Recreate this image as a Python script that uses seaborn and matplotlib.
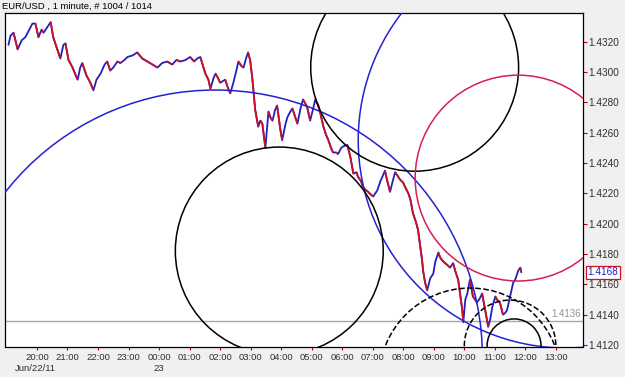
import matplotlib
matplotlib.use("Agg")
import matplotlib.pyplot as plt
import matplotlib.transforms as mtransforms
from matplotlib.patches import Ellipse
from matplotlib.collections import LineCollection
import numpy as np
import pandas as pd
import seaborn as sns

# ---- data: minutes since Jun/22/11 19:00, EUR/USD price ----
minutes = [4, 8, 14, 22, 30, 37, 45, 51, 57, 63, 69, 73, 81, 87, 92, 100, 106, 112, 116, 122,
           130, 136, 140, 145, 149, 157, 165, 171, 177, 185, 193, 198, 204, 210, 218, 224, 232, 238, 248, 257,
           267, 277, 287, 297, 306, 316, 326, 334, 342, 352, 361, 369, 375, 381, 391, 397, 401, 407, 411, 416,
           420, 430, 436, 440, 446, 452, 456, 462, 466, 471, 475, 479, 483, 489, 495, 499, 503, 509, 515, 519,
           523, 528, 532, 538, 542, 548, 552, 558, 562, 568, 572, 578, 583, 591, 597, 603, 607, 613, 617, 623,
           629, 633, 638, 642, 648, 652, 658, 662, 670, 676, 682, 688, 691, 697, 701, 707, 711, 717, 721, 729,
           735, 739, 744, 748, 754, 760, 764, 770, 774, 780, 784, 790, 794, 799, 805, 809, 813, 817, 819, 823,
           827, 833, 839, 843, 849, 852, 856, 862, 866, 872, 878, 882, 888, 892, 896, 898, 902, 906, 911, 917,
           925, 931, 935, 941, 947, 951, 955, 961, 964, 970, 976, 980, 984, 990, 996, 1000, 1004, 1006, 1010, 1012]
prices = [1.4318, 1.4324, 1.4326, 1.4315, 1.4321, 1.4323, 1.4328, 1.4332, 1.4332, 1.4323,
          1.4328, 1.4326, 1.4330, 1.4333, 1.4323, 1.4315, 1.4309, 1.4318, 1.4319, 1.4308,
          1.4303, 1.4298, 1.4295, 1.4303, 1.4306, 1.4298, 1.4293, 1.4288, 1.4295, 1.4299,
          1.4305, 1.4307, 1.4301, 1.4303, 1.4307, 1.4306, 1.4308, 1.4310, 1.4311, 1.4313,
          1.4309, 1.4307, 1.4305, 1.4303, 1.4306, 1.4307, 1.4305, 1.4308, 1.4307, 1.4308,
          1.4310, 1.4307, 1.4309, 1.4310, 1.4299, 1.4295, 1.4289, 1.4296, 1.4299, 1.4296,
          1.4293, 1.4295, 1.4289, 1.4286, 1.4293, 1.4301, 1.4307, 1.4304, 1.4303, 1.4309,
          1.4313, 1.4308, 1.4297, 1.4275, 1.4264, 1.4268, 1.4266, 1.4250, 1.4274, 1.4270,
          1.4268, 1.4275, 1.4278, 1.4263, 1.4255, 1.4265, 1.4270, 1.4274, 1.4276, 1.4270,
          1.4266, 1.4276, 1.4282, 1.4277, 1.4268, 1.4276, 1.4282, 1.4278, 1.4273, 1.4264,
          1.4258, 1.4255, 1.4250, 1.4247, 1.4247, 1.4246, 1.4250, 1.4251, 1.4252, 1.4244,
          1.4233, 1.4234, 1.4231, 1.4228, 1.4224, 1.4222, 1.4221, 1.4219, 1.4218, 1.4222,
          1.4228, 1.4231, 1.4235, 1.4229, 1.4221, 1.4229, 1.4234, 1.4231, 1.4229, 1.4227,
          1.4224, 1.4220, 1.4216, 1.4207, 1.4201, 1.4196, 1.4186, 1.4176, 1.4169, 1.4161,
          1.4156, 1.4164, 1.4167, 1.4175, 1.4181, 1.4178, 1.4176, 1.4174, 1.4173, 1.4171,
          1.4174, 1.4169, 1.4163, 1.4153, 1.4143, 1.4135, 1.4150, 1.4154, 1.4163, 1.4152,
          1.4148, 1.4151, 1.4154, 1.4143, 1.4132, 1.4137, 1.4145, 1.4152, 1.4150, 1.4148,
          1.4140, 1.4141, 1.4143, 1.4152, 1.4161, 1.4163, 1.4167, 1.4169, 1.4171, 1.4168]

hour_ticks = [60, 120, 180, 240, 300, 360, 420, 480, 540, 600, 660, 720, 780, 840, 900, 960, 1020, 1080]
hour_labels = ["20:00", "21:00", "22:00", "23:00", "00:00", "01:00", "02:00", "03:00", "04:00",
               "05:00", "06:00", "07:00", "08:00", "09:00", "10:00", "11:00", "12:00", "13:00"]
price_ticks = [1.4120, 1.4140, 1.4160, 1.4180, 1.4200, 1.4220, 1.4240, 1.4260, 1.4280, 1.4300, 1.4320]

# drawn circles: centre (minutes, price), radius in minutes (drawn round on screen)
circle_t = [410.6, 1100.0, 536.3, 802.4, 1005.7, 911.4, 990.0, 997.8]
circle_p = [1.41120, 1.42551, 1.41820, 1.43032, 1.42301, 1.40975, 1.41194, 1.41194]
circle_r = [525.0, 408.5, 204.3, 204.3, 202.3, 179.0, 90.0, 53.0]
circle_color = ["#2222D0", "#2222D0", "black", "black", "#D81E50", "black", "black", "black"]
circle_style = ["-", "-", "-", "-", "-", "--", "--", "-"]

level_price = 1.4136
last_price = 1.4168

# ---- figure ----
sns.set_theme(style="white")
plt.rcParams["font.family"] = ["Liberation Sans", "DejaVu Sans"]

W, H = 625, 377
fig = plt.figure(figsize=(W / 100, H / 100), dpi=100, facecolor="#F0F0F0")
ax_l, ax_b, ax_w, ax_h = 4.5 / W, 30.5 / H, 578.5 / W, 333.5 / H
ax = fig.add_axes([ax_l, ax_b, ax_w, ax_h])
ax.set_facecolor("white")

xmin, xmax = -3.8, 1133.3
ymin, ymax = 1.4119, 1.4339
ax.set_xlim(xmin, xmax)
ax.set_ylim(ymin, ymax)

# price line: blue base, red for falling steps
df = pd.DataFrame({"t": minutes, "price": prices})
sns.lineplot(data=df, x="t", y="price", ax=ax, color="#2020C0", lw=1.3, zorder=3)
segs = [[(minutes[i], prices[i]), (minutes[i + 1], prices[i + 1])]
        for i in range(len(minutes) - 1) if prices[i + 1] < prices[i]]
ax.add_collection(LineCollection(segs, colors="#D01020", linewidths=1.3, zorder=4))

# level line
ax.axhline(level_price, color="#A8A8A8", lw=1.0, zorder=1)

# circles
px_per_min = ax_w * W / (xmax - xmin)
px_per_price = ax_h * H / (ymax - ymin)
for t, p, r, c, s in zip(circle_t, circle_p, circle_r, circle_color, circle_style):
    e = Ellipse((t, p), 2 * r, 2 * r * px_per_min / px_per_price, fill=False,
                edgecolor=c, lw=1.1, linestyle=s, zorder=5)
    ax.add_patch(e)

# axes styling
for sp in ax.spines.values():
    sp.set_color("black")
    sp.set_linewidth(0.9)
ax.yaxis.tick_right()
ax.set_yticks(price_ticks)
ax.set_yticklabels([f"{v:.4f}" for v in price_ticks])
ax.set_xticks(hour_ticks)
ax.set_xticklabels(hour_labels)
ax.tick_params(axis="y", which="both", right=True, left=False, direction="out", length=3,
               width=0.8, color="#C00000", labelcolor="#303030", labelsize=7.2, pad=1)
ax.tick_params(axis="x", which="both", bottom=True, direction="out", length=2.5,
               width=0.8, color="#C00000", labelcolor="#303030", labelsize=6.8, pad=2)
ax.set_xlabel("")
ax.set_ylabel("")

# date row
trans_x = mtransforms.blended_transform_factory(ax.transData, ax.transAxes)
ax.text(57, -0.065, "Jun/22/11", transform=trans_x, ha="center", va="center",
        fontsize=6.8, color="#303030")
ax.text(300, -0.065, "23", transform=trans_x, ha="center", va="center",
        fontsize=6.8, color="#303030")

# level label
trans_y = mtransforms.blended_transform_factory(ax.transAxes, ax.transData)
ax.text(0.997, level_price + 0.0001, f"{level_price:.4f}", transform=trans_y, ha="right",
        va="bottom", fontsize=7, color="#909090")

# current price box
ax.text(1.008, last_price, f"{last_price:.4f}", transform=trans_y, ha="left", va="center",
        fontsize=7.2, color="#2020C0", zorder=10, clip_on=False,
        bbox=dict(boxstyle="square,pad=0.15", facecolor="white", edgecolor="#D01020", lw=0.9))

# title
fig.text(2 / W, 1 - 6.5 / H, "EUR/USD , 1 minute, # 1004 / 1014", ha="left", va="center",
         fontsize=6.8, color="black")

fig.savefig("out.png", dpi=100, facecolor=fig.get_facecolor())
